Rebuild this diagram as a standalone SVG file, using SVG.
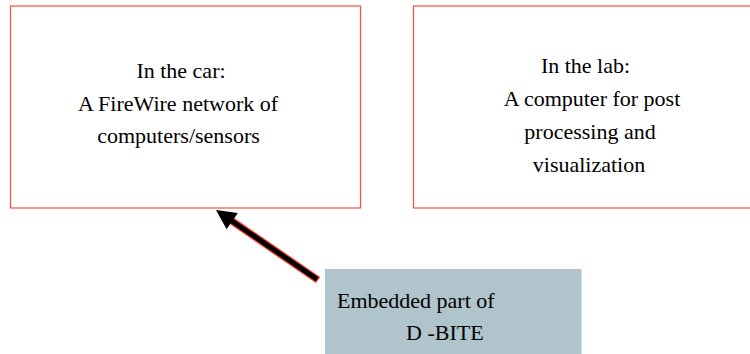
<svg xmlns="http://www.w3.org/2000/svg" width="750" height="354" viewBox="0 0 750 354">
  <rect width="750" height="354" fill="#ffffff"/>
  <g id="node-car">
    <rect x="10.5" y="6" width="350" height="202" fill="#ffffff" stroke="#ff4d3a" stroke-width="1.2"/>
    <text x="181" y="78" text-anchor="middle" font-family="Liberation Serif" font-size="22">In the car:</text>
    <text x="178" y="111" text-anchor="middle" font-family="Liberation Serif" font-size="22">A FireWire network of</text>
    <text x="178.5" y="143" text-anchor="middle" font-family="Liberation Serif" font-size="22">computers/sensors</text>
  </g>
  <g id="node-lab">
    <rect x="413.5" y="6" width="360" height="202" fill="#ffffff" stroke="#ff4d3a" stroke-width="1.2"/>
    <text x="585.5" y="73" text-anchor="middle" font-family="Liberation Serif" font-size="22">In the lab:</text>
    <text x="592" y="106" text-anchor="middle" font-family="Liberation Serif" font-size="22">A computer for post</text>
    <text x="590" y="139" text-anchor="middle" font-family="Liberation Serif" font-size="22">processing and</text>
    <text x="589" y="172" text-anchor="middle" font-family="Liberation Serif" font-size="22">visualization</text>
  </g>
  <g id="node-dbite">
    <rect x="325" y="269" width="256.5" height="90" fill="#b0c4cc"/>
    <text x="337" y="308" font-family="Liberation Serif" font-size="22">Embedded part of</text>
    <text x="406" y="340" font-family="Liberation Serif" font-size="22">D -BITE</text>
  </g>
  <g id="connectors">
    <line x1="318" y1="280" x2="230" y2="219.7" stroke="#ff3a20" stroke-width="7.5"/>
    <line x1="317.2" y1="279.4" x2="230" y2="219.7" stroke="#000000" stroke-width="5"/>
    <polygon points="216,210 237.8,212.9 226.6,229.3" fill="#000000"/>
  </g>
</svg>
